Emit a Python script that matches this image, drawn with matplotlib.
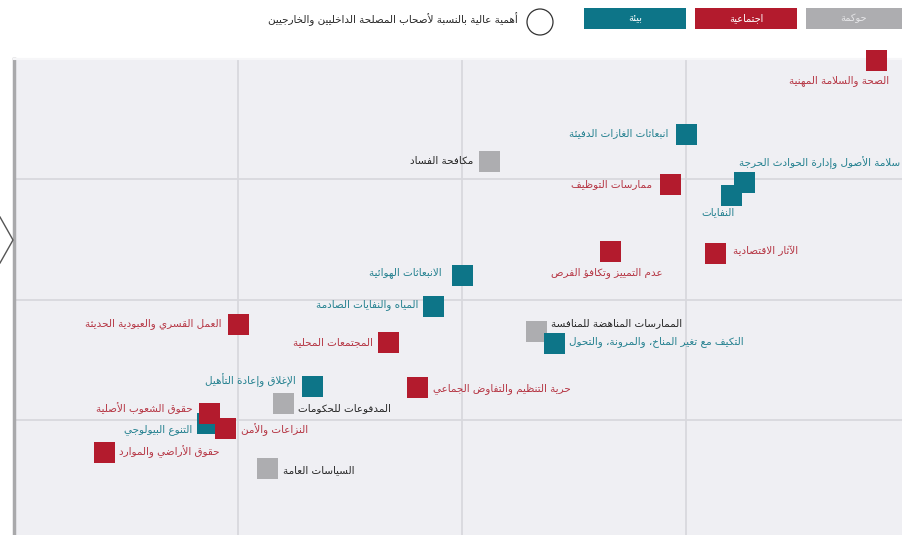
import matplotlib
matplotlib.use("Agg")
import matplotlib.pyplot as plt
from matplotlib.patches import Rectangle, Circle

plt.rcParams['font.family'] = ['DejaVu Sans']

# --- minimal Arabic shaping (presentation forms + RTL order) ---
AR_LETTERS = "ءآأؤإئابةتثجحخدذرزسشصضطظعغفقكلمنهوىي"
AR_NFORMS = [1, 2, 2, 2, 2, 4, 2, 4, 2, 4, 4, 4, 4, 4, 2, 2, 2, 2, 4, 4,
             4, 4, 4, 4, 4, 4, 4, 4, 4, 4, 4, 4, 4, 2, 2, 4]
FORMS = {}
base = 0xFE80
for ch, nf in zip(AR_LETTERS, AR_NFORMS):
    FORMS[ch] = (base, nf)
    base += nf
LAM_ALEF = {'آ': 0xFEF5, 'أ': 0xFEF7, 'إ': 0xFEF9, 'ا': 0xFEFB}


def ar(s):
    res = []
    prev_joins = False
    i = 0
    n = len(s)
    while i < n:
        c = s[i]
        if c not in FORMS:
            res.append(c)
            prev_joins = False
            i += 1
            continue
        if c == 'ل' and i + 1 < n and s[i + 1] in LAM_ALEF:
            res.append(chr(LAM_ALEF[s[i + 1]] + (1 if prev_joins else 0)))
            prev_joins = False
            i += 2
            continue
        b, nf = FORMS[c]
        nxt = s[i + 1] if i + 1 < n else ''
        next_ok = nf == 4 and nxt in FORMS and nxt != 'ء'
        if next_ok:
            form = 3 if prev_joins else 2
        else:
            form = 1 if (prev_joins and nf > 1) else 0
        res.append(chr(b + form))
        prev_joins = next_ok
        i += 1
    return ''.join(reversed(res))


# --- data ---
topics = [
    "الصحة والسلامة المهنية",
    "انبعاثات الغازات الدفيئة",
    "مكافحة الفساد",
    "ممارسات التوظيف",
    "سلامة الأصول وإدارة الحوادث الحرجة",
    "النفايات",
    "عدم التمييز وتكافؤ الفرص",
    "الآثار الاقتصادية",
    "الانبعاثات الهوائية",
    "المياه والنفايات الصادمة",
    "العمل القسري والعبودية الحديثة",
    "المجتمعات المحلية",
    "الممارسات المناهضة للمنافسة",
    "التكيف مع تغير المناخ، والمرونة، والتحول",
    "الإغلاق وإعادة التأهيل",
    "حرية التنظيم والتفاوض الجماعي",
    "المدفوعات للحكومات",
    "حقوق الشعوب الأصلية",
    "التنوع البيولوجي",
    "النزاعات والأمن",
    "حقوق الأراضي والموارد",
    "السياسات العامة",
]
x_vals = [3.85, 3.00, 2.12, 2.93, 3.26, 3.20, 2.66, 3.13, 2.00, 1.87, 1.00,
          1.67, 2.33, 2.41, 1.33, 1.80, 1.20, 0.87, 0.86, 0.94, 0.40, 1.13]
y_vals = [3.99, 3.38, 3.15, 2.96, 2.98, 2.87, 2.40, 2.39, 2.20, 1.95, 1.80,
          1.65, 1.74, 1.64, 1.28, 1.27, 1.14, 1.06, 0.97, 0.93, 0.73, 0.60]
cats = ['soc', 'env', 'gov', 'soc', 'env', 'env', 'soc', 'soc', 'env', 'env', 'soc',
        'soc', 'gov', 'env', 'env', 'soc', 'gov', 'soc', 'env', 'soc', 'soc', 'gov']

cat_names = {'gov': "حوكمة", 'soc': "اجتماعية", 'env': "بيئة"}
legend_note = "أهمية عالية بالنسبة لأصحاب المصلحة الداخليين والخارجيين"

# --- style ---
marker_col = {'gov': '#ADADB0', 'soc': '#B31B2D', 'env': '#0D7588'}
text_col = {'gov': '#262626', 'soc': '#B53442', 'env': '#23808F'}

# label offsets in pixels (dx, dy, ha)
label_pos = [(13, -20, 'right'), (-18, 0, 'right'), (-16, 0, 'right'), (-18, 0, 'right'),
             (-5, 19, 'left'), (-13, -17, 'center'), (-3, -21, 'center'), (18, 2, 'left'),
             (-20, 3, 'right'), (-15, 1, 'right'), (-16, 0, 'right'), (-15, 0, 'right'),
             (15, 8, 'left'), (15, 1, 'left'), (-16, 6, 'right'), (16, -1, 'left'),
             (15, -5, 'left'), (-16, 4, 'right'), (-14, -6, 'right'), (16, -1, 'left'),
             (15, 1, 'left'), (16, -2, 'left')]

W, H = 903, 535
fig = plt.figure(figsize=(W / 100, H / 100), dpi=100)

left_px, top_px, cell_w, cell_h = 14, 59, 224, 120.25
ax_w = W + 10 - left_px
ax = fig.add_axes([left_px / W, 0, ax_w / W, (H - top_px) / H])
ax.set_facecolor('#EFEFF3')
ax.set_xlim(0, ax_w / cell_w)
ax.set_ylim((540 - H) / cell_h, 4)
ax.set_xticks([1, 2, 3])
ax.set_yticks([1, 2, 3])
ax.tick_params(length=0, labelbottom=False, labelleft=False)
ax.grid(True, color='#D8D8DD', lw=1.3)
ax.set_axisbelow(True)
for s in ['right', 'bottom']:
    ax.spines[s].set_visible(False)
ax.spines['top'].set_color('#F6F6F8')
ax.spines['top'].set_linewidth(1.5)
ax.spines['left'].set_color('#A9A9AB')
ax.spines['left'].set_linewidth(2.5)

msize = (21 * 0.72) ** 2
for c in ['gov', 'env', 'soc']:
    xs = [x for x, k in zip(x_vals, cats) if k == c]
    ys = [y for y, k in zip(y_vals, cats) if k == c]
    ax.scatter(xs, ys, marker='s', s=msize, color=marker_col[c], linewidths=0,
               clip_on=False, zorder=3)

for name, x, y, c, (dx, dy, ha) in zip(topics, x_vals, y_vals, cats, label_pos):
    ax.annotate(ar(name), (x, y), xytext=(dx, dy), textcoords='offset pixels',
                ha=ha, va='center', fontsize=7.5, color=text_col[c], zorder=4)

# --- header legend and decorations (figure pixel space) ---
deco = fig.add_axes([0, 0, 1, 1], zorder=5)
deco.set_xlim(0, W)
deco.set_ylim(H, 0)
deco.axis('off')

boxes = [('env', 584, 102), ('soc', 695, 102), ('gov', 806, 100)]
for c, x0, w in boxes:
    deco.add_patch(Rectangle((x0, 8), w, 21, color=marker_col[c], lw=0))
    deco.text(x0 + w / 2 - (2 if c == 'gov' else 0), 18.5, ar(cat_names[c]),
              ha='center', va='center', fontsize=7,
              color='white' if c != 'gov' else '#E6E6E8')

deco.add_patch(Circle((540, 22), 13, facecolor='white', edgecolor='#333333', lw=0.9))
deco.text(518, 19, ar(legend_note), ha='right', va='center', fontsize=7.5, color='#262626')

deco.plot([0, 13, 0], [217, 240, 263], color='#555555', lw=1.0)

fig.savefig('out.png', dpi=100)
